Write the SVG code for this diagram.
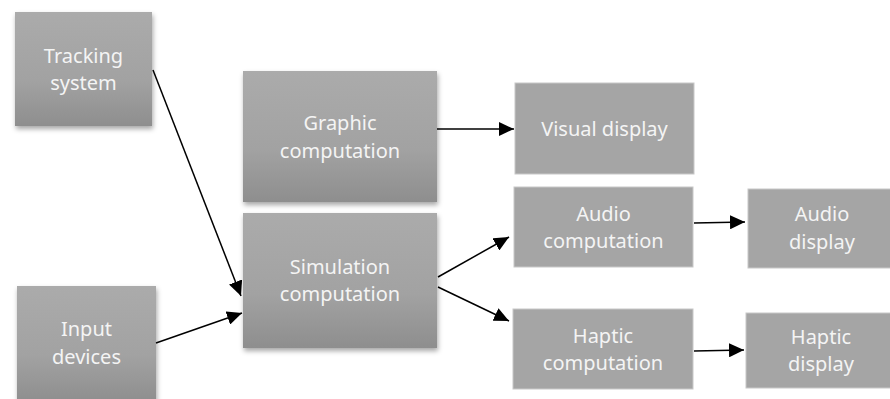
<svg xmlns="http://www.w3.org/2000/svg" width="890" height="399" viewBox="0 0 890 399">
<defs>
<linearGradient id="g3d" x1="0" y1="0" x2="0" y2="1">
<stop offset="0" stop-color="#ababab"/>
<stop offset="0.6" stop-color="#a2a2a2"/>
<stop offset="1" stop-color="#8e8e8e"/>
</linearGradient>
<filter id="sh" x="-10%" y="-10%" width="125%" height="125%">
<feDropShadow dx="1" dy="3" stdDeviation="2.5" flood-color="#000" flood-opacity="0.35"/>
</filter>
<marker id="ah" markerUnits="userSpaceOnUse" markerWidth="16" markerHeight="14" refX="15" refY="7" orient="auto">
<path d="M0,0 L15,7 L0,14 Z" fill="#000"/>
</marker>
</defs>
<style>
.n3 { fill: url(#g3d); filter: url(#sh); }
.nf { fill: #a5a5a5; stroke: #c8c8c8; stroke-width: 1; }
text { font-family: "Noto Sans", "Open Sans", sans-serif; font-size: 20px; fill: #f4f4f4; text-anchor: middle; }
.c { stroke: #000; stroke-width: 1.5; fill: none; marker-end: url(#ah); }
</style>
<rect width="890" height="399" fill="#fff"/>
<g id="tracking"><rect class="n3" x="15" y="12" width="137" height="114"/><text x="83.5" y="63">Tracking</text><text x="83.5" y="90">system</text></g>
<g id="input"><rect class="n3" x="17" y="286" width="139" height="116"/><text x="86.5" y="336">Input</text><text x="86.5" y="364">devices</text></g>
<g id="graphic"><rect class="n3" x="243" y="71" width="194" height="131"/><text x="340" y="130">Graphic</text><text x="340" y="158">computation</text></g>
<g id="simulation"><rect class="n3" x="243" y="213" width="194" height="135"/><text x="340" y="274">Simulation</text><text x="340" y="301">computation</text></g>
<g id="visual"><rect class="nf" x="515" y="83" width="179" height="91"/><text x="604.5" y="136">Visual display</text></g>
<g id="audiocomp"><rect class="nf" x="514" y="187" width="179" height="80"/><text x="603.5" y="221">Audio</text><text x="603.5" y="248">computation</text></g>
<g id="audiodisp"><rect class="nf" x="748" y="189" width="145" height="79"/><text x="822" y="221">Audio</text><text x="822" y="249">display</text></g>
<g id="hapticcomp"><rect class="nf" x="513" y="309" width="180" height="80"/><text x="603" y="343">Haptic</text><text x="603" y="370">computation</text></g>
<g id="hapticdisp"><rect class="nf" x="746" y="313" width="147" height="75"/><text x="821" y="344">Haptic</text><text x="821" y="371">display</text></g>
<g id="connectors">
<path class="c" d="M153,70 L241,296"/>
<path class="c" d="M156,343 L242,313"/>
<path class="c" d="M437,129 L514,129"/>
<path class="c" d="M438,277 L509,237"/>
<path class="c" d="M438,287 L509,321"/>
<path class="c" d="M694,223 L745,222"/>
<path class="c" d="M694,351 L744,350"/>
</g>
</svg>
